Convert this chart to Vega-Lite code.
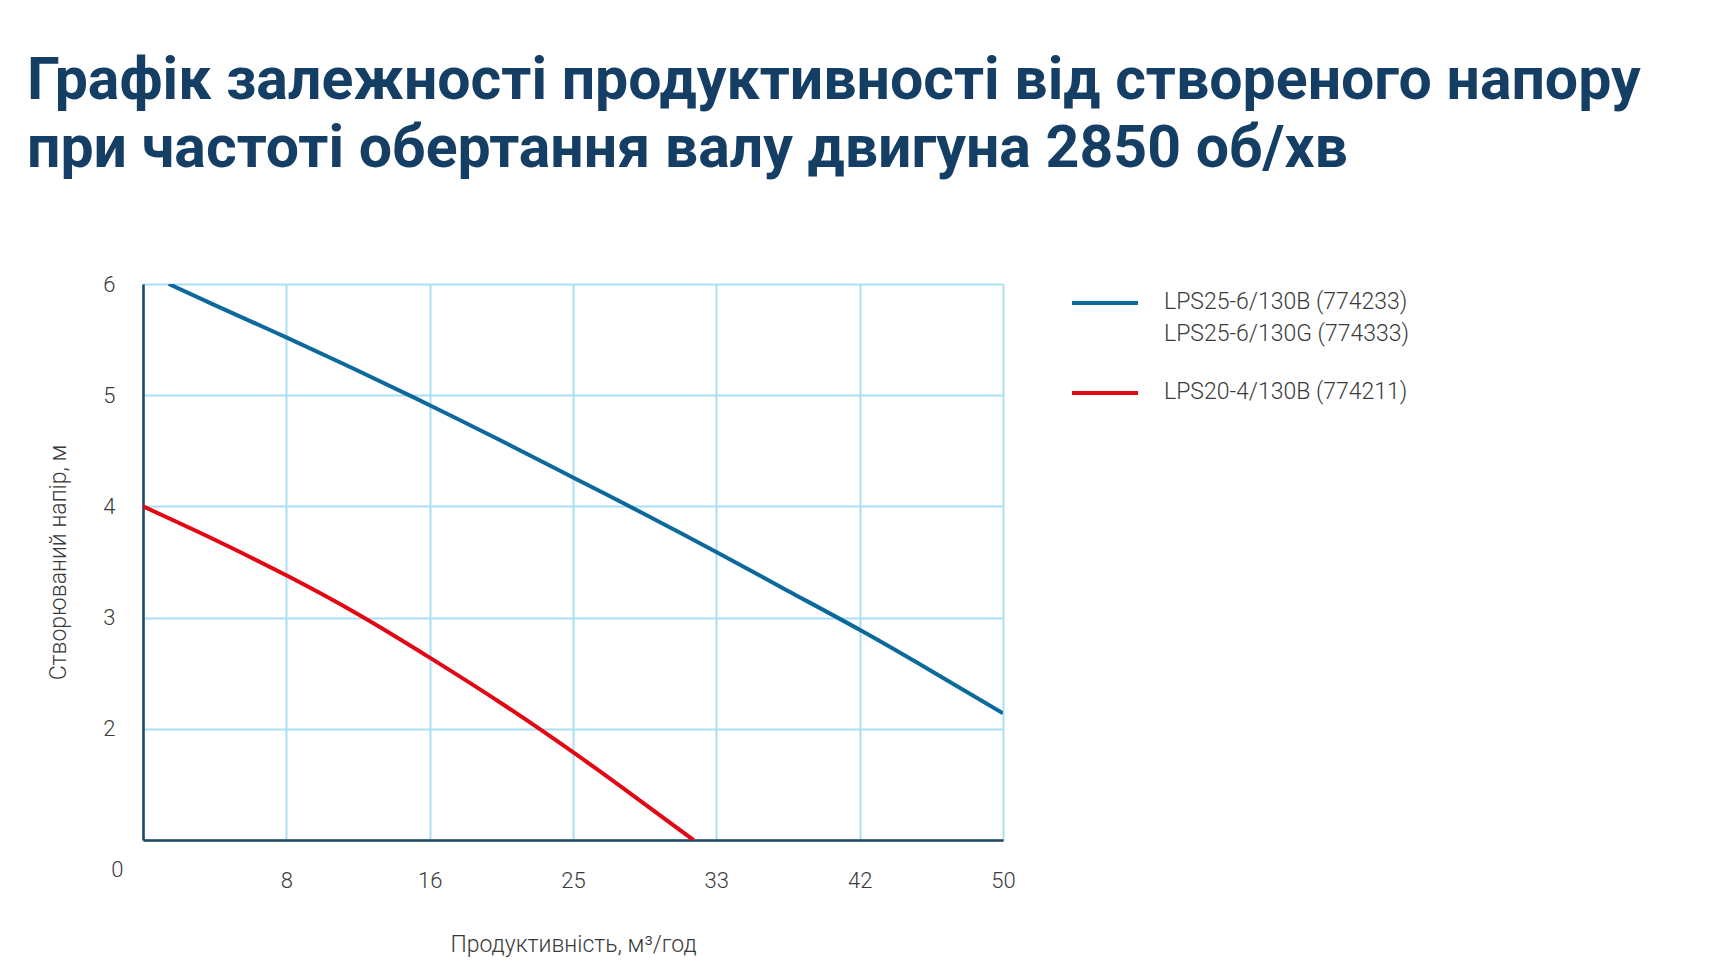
{
  "$schema": "https://vega.github.io/schema/vega-lite/v6.json",
  "width": 860,
  "height": 556,
  "autosize": "none",
  "padding": {"left": 143, "top": 284, "right": 719, "bottom": 136},
  "background": "white",
  "view": {"stroke": null},
  "title": {
    "text": ["Графік залежності продуктивності від створеного напору", "при частоті обертання валу двигуна 2850 об/хв"],
    "anchor": "start",
    "frame": "group",
    "dx": -116,
    "offset": 89,
    "font": "Roboto",
    "fontSize": 59,
    "fontWeight": "bold",
    "color": "#153e64",
    "lineHeight": 68
  },
  "data": {
    "values": [
      {"flow": 1.5, "head": 6.0, "model": "LPS25-6/130B (774233)\nLPS25-6/130G (774333)"},
      {"flow": 4.17, "head": 5.81, "model": "LPS25-6/130B (774233)\nLPS25-6/130G (774333)"},
      {"flow": 8.33, "head": 5.52, "model": "LPS25-6/130B (774233)\nLPS25-6/130G (774333)"},
      {"flow": 12.5, "head": 5.22, "model": "LPS25-6/130B (774233)\nLPS25-6/130G (774333)"},
      {"flow": 16.67, "head": 4.91, "model": "LPS25-6/130B (774233)\nLPS25-6/130G (774333)"},
      {"flow": 20.83, "head": 4.59, "model": "LPS25-6/130B (774233)\nLPS25-6/130G (774333)"},
      {"flow": 25, "head": 4.26, "model": "LPS25-6/130B (774233)\nLPS25-6/130G (774333)"},
      {"flow": 29.17, "head": 3.93, "model": "LPS25-6/130B (774233)\nLPS25-6/130G (774333)"},
      {"flow": 33.33, "head": 3.59, "model": "LPS25-6/130B (774233)\nLPS25-6/130G (774333)"},
      {"flow": 37.5, "head": 3.24, "model": "LPS25-6/130B (774233)\nLPS25-6/130G (774333)"},
      {"flow": 41.67, "head": 2.89, "model": "LPS25-6/130B (774233)\nLPS25-6/130G (774333)"},
      {"flow": 45.83, "head": 2.52, "model": "LPS25-6/130B (774233)\nLPS25-6/130G (774333)"},
      {"flow": 50, "head": 2.14, "model": "LPS25-6/130B (774233)\nLPS25-6/130G (774333)"},
      {"flow": 0, "head": 4.0, "model": "LPS20-4/130B (774211)"},
      {"flow": 4.17, "head": 3.7, "model": "LPS20-4/130B (774211)"},
      {"flow": 8.33, "head": 3.38, "model": "LPS20-4/130B (774211)"},
      {"flow": 12.5, "head": 3.03, "model": "LPS20-4/130B (774211)"},
      {"flow": 16.67, "head": 2.64, "model": "LPS20-4/130B (774211)"},
      {"flow": 20.83, "head": 2.23, "model": "LPS20-4/130B (774211)"},
      {"flow": 25, "head": 1.79, "model": "LPS20-4/130B (774211)"},
      {"flow": 28.5, "head": 1.4, "model": "LPS20-4/130B (774211)"},
      {"flow": 32.0, "head": 1.0, "model": "LPS20-4/130B (774211)"}
    ]
  },
  "mark": {"type": "line", "strokeWidth": 4, "interpolate": "natural", "clip": true},
  "encoding": {
    "x": {
      "field": "flow",
      "type": "quantitative",
      "scale": {"domain": [0, 50], "nice": false, "zero": false},
      "axis": {
        "title": "Продуктивність, м³/год",
        "values": [0, 8.333, 16.667, 25, 33.333, 41.667, 50],
        "labelExpr": "['', '8', '16', '25', '33', '42', '50'][round(datum.value * 6 / 50)]",
        "tickSize": 0,
        "labelPadding": 30,
        "labelFlush": false,
        "titleY": 104,
        "titleBaseline": "middle"
      }
    },
    "y": {
      "field": "head",
      "type": "quantitative",
      "scale": {"domain": [1, 6], "nice": false, "zero": false},
      "axis": {
        "title": "Створюваний напір, м",
        "values": [1, 2, 3, 4, 5, 6],
        "labelExpr": "datum.value == 1 ? '0' : datum.label",
        "tickSize": 0,
        "labelPadding": {"condition": {"test": "datum.value == 1", "value": 20}, "value": 28},
        "labelOffset": {"condition": {"test": "datum.value == 1", "value": 29}, "value": 0},
        "labelFlush": false,
        "titleX": -85,
        "titleBaseline": "middle"
      }
    },
    "color": {
      "field": "model",
      "type": "nominal",
      "scale": {
        "domain": ["LPS25-6/130B (774233)\nLPS25-6/130G (774333)", "LPS20-4/130B (774211)"],
        "range": ["#0b699c", "#e30613"]
      },
      "legend": {
        "title": null,
        "orient": "none",
        "legendX": 927,
        "legendY": -16,
        "symbolType": "stroke",
        "symbolSize": 4356,
        "symbolStrokeWidth": 4,
        "labelExpr": "split(datum.label, '\\n')",
        "labelLimit": 500,
        "labelOffset": 24,
        "labelFont": "Roboto",
        "labelFontWeight": 300,
        "labelFontSize": 23,
        "labelColor": "#3a3a3a",
        "labelBaseline": "top",
        "rowPadding": 12,
        "encode": {"labels": {"update": {"dy": {"value": -12}, "lineHeight": {"value": 32}}}}
      }
    }
  },
  "config": {
    "axis": {
      "domainColor": "#1d4662",
      "domainWidth": 2.5,
      "gridColor": "#a9dff5",
      "gridWidth": 2,
      "grid": true,
      "labelFont": "Roboto",
      "labelFontWeight": 300,
      "labelFontSize": 22,
      "labelColor": "#3a3a3a",
      "titleFont": "Roboto",
      "titleFontWeight": 300,
      "titleFontSize": 23,
      "titleColor": "#3a3a3a"
    }
  }
}
